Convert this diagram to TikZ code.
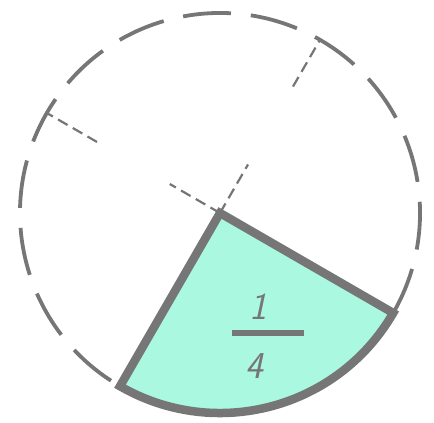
\documentclass[tikz,border=0pt]{standalone}
\usepackage{tikz}
\usetikzlibrary{calc}
\definecolor{linegray}{RGB}{118,118,118}
\definecolor{mint}{RGB}{170,248,224}
\tikzset{
  circdash/.style={draw=linegray, line width=3.8pt, dash pattern=on 48pt off 20pt},
  raddash/.style={draw=linegray, line width=2.2pt, dash pattern=on 11pt off 6pt},
  sectorbox/.style={draw=linegray, fill=mint, line width=8.5pt, line join=miter},
  digit/.style={text=linegray, font=\fontsize{38}{38}\selectfont\sffamily\slshape, inner sep=0pt},
  fracbar/.style={draw=linegray, line width=5.5pt}
}
\begin{document}
\begin{tikzpicture}[x=1pt,y=1pt]
\useasboundingbox (0,0) rectangle (434,423);
\coordinate (c) at (220,210);
% dashed circle (remaining three quarters)
\draw[circdash] ($(c)+(-30:200)$) arc[start angle=-30, end angle=240, radius=200];
% partial dashed radii
\coordinate (a1) at ($(c)+(60:56)$);
\coordinate (a2) at ($(c)+(60:146)$);
\coordinate (a3) at ($(c)+(60:199)$);
\coordinate (b1) at ($(c)+(150:58)$);
\coordinate (b2) at ($(c)+(150:142)$);
\coordinate (b3) at ($(c)+(150:199)$);
\draw[raddash] (c) -- (a1);
\draw[raddash] (a2) -- (a3);
\draw[raddash] (c) -- (b1);
\draw[raddash] (b2) -- (b3);
% shaded quarter
\draw[sectorbox] (c) -- ($(c)+(-30:200)$) arc[start angle=-30, end angle=-120, radius=200] -- cycle;
% fraction 1/4
\node[digit] (one) at (258,116) {1};
\node[digit] (four) at (254,57) {4};
\coordinate (barL) at (232,90);
\coordinate (barR) at (304,90);
\draw[fracbar] (barL) -- (barR);
\end{tikzpicture}
\end{document}
